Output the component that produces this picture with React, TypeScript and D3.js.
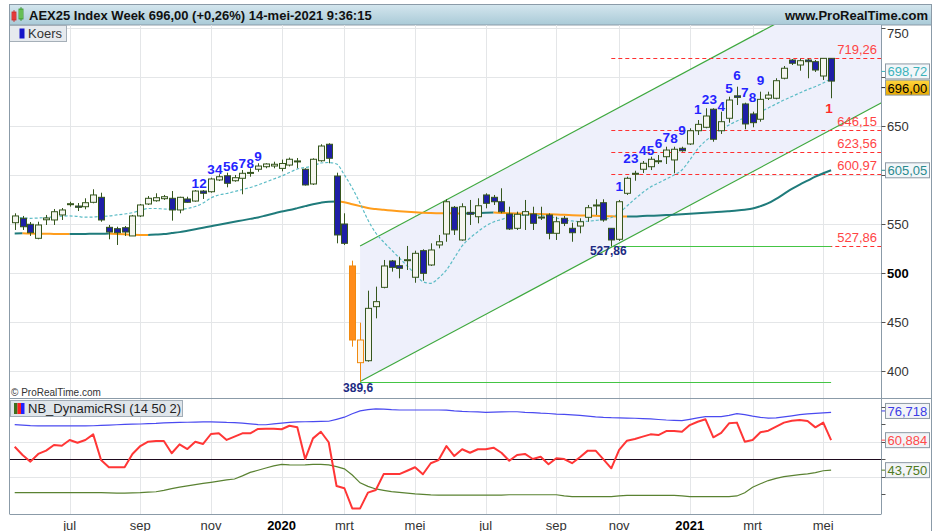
import React from 'react';
import * as d3 from 'd3';

// ---------- DATA ----------
const FIRST_WEEK = new Date(2019, 4, 13);

const opens = [
  551.6, 556.1, 550.0, 535.7, 554.6, 554.4, 559.5, 570.3, 568.6, 567.9,
  572.4, 577.5, 546.9, 545.5, 546.5, 538.1, 558.5, 570.7, 574.0, 576.1,
  576.5, 564.6, 575.8, 573.7, 583.9, 583.2, 595.2, 599.5, 594.4, 596.9,
  602.3, 606.1, 608.7, 609.4, 607.0, 610.4, 614.3, 606.1, 591.1, 614.8,
  631.6, 599.2, 550.3, 507.5, 408.9, 410.9, 466.0, 485.7, 512.6, 507.8,
  513.1, 496.0, 523.1, 508.5, 528.9, 540.1, 567.3, 534.0, 562.2, 557.7,
  579.9, 577.5, 573.0, 560.5, 545.9, 559.5, 560.5, 557.4, 559.5, 540.8,
  556.1, 545.9, 548.2, 557.1, 569.2, 572.0, 545.9, 534.7, 581.6, 601.7,
  606.1, 608.7, 614.5, 618.9, 615.6, 627.5, 631.9, 645.4, 648.9, 667.3,
  645.4, 658.1, 681.0, 672.7, 662.5, 657.1, 678.5, 678.5, 698.9, 717.5,
  712.4, 717.5, 715.8, 701.2, 719.2,
];
const highs = [
  561.2, 558.5, 552.3, 552.6, 559.5, 565.6, 566.6, 573.0, 571.7, 576.5,
  585.7, 582.2, 549.3, 547.5, 548.2, 559.5, 570.7, 578.8, 581.6, 579.9,
  583.9, 578.1, 578.1, 584.9, 584.9, 597.5, 601.0, 602.6, 600.3, 605.3,
  607.1, 612.2, 612.2, 613.8, 616.0, 618.0, 617.6, 607.1, 617.3, 631.6,
  632.6, 602.6, 561.2, 512.9, 449.7, 482.3, 486.4, 513.6, 513.6, 516.9,
  527.9, 523.1, 524.5, 530.6, 539.1, 575.5, 568.6, 571.4, 574.8, 576.5,
  581.6, 579.9, 586.7, 567.9, 562.9, 574.8, 567.9, 567.9, 561.2, 557.7,
  558.5, 551.6, 556.1, 569.7, 575.5, 575.5, 545.9, 574.8, 598.5, 604.6,
  614.5, 618.9, 620.6, 629.1, 629.1, 629.1, 647.9, 656.3, 668.3, 668.3,
  664.8, 680.1, 690.3, 674.0, 664.8, 685.2, 685.2, 698.9, 711.4, 718.5,
  719.0, 719.0, 717.5, 719.26, 719.26,
];
const lows = [
  544.2, 544.2, 538.1, 534.7, 549.3, 549.3, 554.4, 568.0, 563.5, 565.3,
  571.4, 552.6, 534.7, 528.9, 538.1, 538.1, 557.4, 569.7, 573.0, 574.8,
  553.7, 561.2, 572.0, 573.0, 575.8, 582.2, 594.1, 587.7, 593.4, 580.6,
  598.5, 603.6, 607.1, 607.1, 604.0, 609.0, 607.1, 589.5, 590.1, 613.8,
  612.2, 530.6, 528.9, 425.2, 389.6, 409.9, 454.1, 484.7, 501.7, 494.9,
  503.4, 490.4, 492.5, 507.5, 525.5, 532.2, 539.1, 533.3, 549.3, 551.0,
  566.3, 569.7, 561.2, 544.2, 544.2, 544.2, 544.2, 554.4, 534.7, 534.0,
  548.2, 532.2, 540.8, 552.6, 559.5, 552.6, 527.86, 533.0, 579.9, 594.4,
  602.3, 605.3, 611.5, 611.5, 602.0, 624.0, 630.9, 641.1, 647.9, 634.2,
  642.1, 653.6, 671.6, 646.9, 648.9, 654.6, 676.7, 677.4, 697.8, 712.4,
  706.6, 698.9, 705.3, 697.1, 678.5,
];
const closes = [
  558.5, 547.5, 541.4, 549.3, 556.4, 562.8, 564.6, 571.0, 567.3, 572.0,
  579.9, 554.4, 542.1, 541.4, 542.1, 558.5, 569.7, 576.5, 577.1, 578.1,
  564.6, 577.5, 572.4, 583.9, 581.6, 596.2, 598.5, 591.8, 597.5, 602.0,
  602.9, 609.4, 611.5, 611.2, 612.0, 616.3, 614.6, 590.1, 616.3, 629.8,
  617.3, 539.1, 530.6, 432.0, 432.0, 464.3, 471.1, 507.5, 506.1, 505.1,
  513.9, 520.4, 500.0, 523.8, 532.2, 573.0, 544.2, 567.9, 560.2, 568.9,
  571.4, 573.0, 562.8, 545.2, 560.2, 562.9, 551.0, 556.4, 540.8, 552.6,
  551.0, 541.4, 552.6, 566.9, 569.7, 554.4, 534.0, 573.0, 596.9, 602.0,
  612.2, 616.3, 614.8, 625.7, 626.5, 625.0, 645.4, 651.9, 660.4, 636.7,
  654.6, 676.7, 679.4, 652.3, 653.6, 677.4, 681.8, 696.4, 709.1, 714.2,
  716.8, 715.8, 707.3, 719.2, 696.0,
];

const smaShort = [
  557.1, 556.6, 556.1, 556.4, 556.9, 557.6, 558.3, 558.5, 558.0, 557.2,
  557.4, 558.0, 558.5, 559.5, 560.5, 561.8, 564.1, 566.1, 566.1, 565.6,
  565.4, 565.3, 566.1, 568.1, 571.7, 576.8, 579.9, 581.4, 583.4, 585.5,
  587.5, 590.1, 593.1, 596.2, 599.2, 602.8, 606.4, 607.9, 609.4, 612.5,
  613.0, 611.5, 600.3, 587.0, 571.4, 554.4, 541.1, 531.9, 523.8, 515.6,
  507.5, 499.3, 491.5, 489.8, 495.2, 503.4, 515.6, 527.9, 536.0, 542.4,
  548.3, 552.4, 554.9, 557.4, 558.7, 559.2, 559.5, 559.0, 558.0, 556.4,
  554.4, 553.4, 552.8, 553.1, 553.9, 554.9, 556.9, 561.5, 568.6, 575.8,
  582.4, 588.0, 592.1, 596.2, 600.3, 605.4, 615.5, 626.8, 634.9, 641.1,
  646.7, 651.3, 655.3, 658.4, 660.4, 664.8, 668.6, 672.7, 676.7, 680.3,
  683.9, 687.4, 690.5, 694.1, 698.72,
];
const smaLong = [
  540.6, 540.8, 540.6, 540.4, 540.3, 540.2, 540.1, 540.0, 540.1, 540.2,
  540.3, 540.4, 540.5, 540.2, 539.8, 539.4, 539.2, 539.1, 539.5, 540.0,
  541.0, 542.0, 543.5, 545.0, 546.5, 548.0, 549.5, 551.0, 552.5, 554.0,
  555.5, 557.0, 559.0, 561.0, 563.0, 564.6, 566.5, 568.5, 570.5, 572.0,
  573.0, 573.2, 572.5, 570.5, 568.5, 566.5, 565.5, 564.8, 564.0, 563.3,
  562.7, 562.2, 561.8, 561.5, 561.3, 561.2, 561.1, 561.0, 561.2, 561.5,
  561.8, 561.9, 561.6, 561.3, 561.0, 560.8, 560.6, 560.4, 560.2, 560.0,
  559.6, 559.3, 559.0, 558.8, 558.6, 558.4, 558.2, 558.0, 557.9, 558.0,
  558.4, 558.7, 559.0, 559.4, 559.8, 560.3, 560.8, 561.3, 561.8, 562.3,
  562.8, 563.4, 564.0, 564.8, 566.0, 568.5, 571.5, 576.0, 581.0, 586.0,
  590.5, 594.5, 598.5, 602.0, 605.05,
];

const rsiLine = [
  57.1, 52.4, 48.6, 53.0, 54.9, 58.1, 57.7, 61.0, 59.4, 61.0,
  64.2, 49.5, 45.4, 45.4, 45.4, 53.0, 57.5, 60.0, 60.4, 60.4,
  53.4, 58.5, 55.8, 60.0, 58.7, 64.4, 64.8, 61.0, 62.9, 64.8,
  64.8, 67.3, 67.4, 67.4, 67.1, 69.1, 68.2, 50.1, 61.9, 65.7,
  59.7, 34.7, 33.4, 21.9, 21.9, 30.9, 32.4, 41.5, 41.5, 41.5,
  43.4, 45.4, 41.4, 47.7, 49.5, 57.5, 51.8, 55.7, 53.7, 55.7,
  55.7, 56.6, 53.7, 49.1, 52.4, 53.0, 50.1, 51.4, 47.1, 50.5,
  50.1, 47.7, 51.1, 54.9, 54.9, 49.9, 44.8, 55.3, 60.6, 61.5,
  62.9, 64.2, 63.8, 66.1, 66.1, 65.7, 69.5, 71.4, 72.8, 62.5,
  65.1, 70.5, 70.9, 60.0, 61.0, 65.4, 66.3, 68.6, 70.9, 72.0,
  72.4, 71.8, 68.2, 70.9, 60.884,
];
const rsiUpper = [
  69.8, 69.5, 69.2, 69.0, 69.0, 69.0, 69.0, 69.0, 69.0, 69.0,
  69.1, 69.3, 69.5, 69.7, 69.9, 70.0, 70.1, 70.3, 70.5, 70.8,
  70.9, 71.0, 71.1, 71.2, 71.3, 71.3, 71.2, 71.0, 70.9, 70.6,
  70.2, 69.8, 69.7, 70.2, 70.6, 71.0, 71.3, 71.4, 71.5, 71.6,
  71.7, 72.8, 74.0, 76.0, 77.6, 78.3, 78.7, 78.6, 78.3, 78.1,
  78.1, 78.1, 78.1, 78.1, 78.1, 78.0, 77.6, 77.3, 77.1, 77.0,
  76.8, 76.9, 77.0, 77.1, 77.1, 76.8, 76.6, 76.3, 76.1, 75.8,
  75.6, 75.3, 75.0, 74.6, 74.2, 73.9, 73.7, 73.6, 73.5, 73.4,
  73.2, 73.0, 72.7, 72.4, 72.2, 72.0, 72.8, 73.6, 74.3, 74.3,
  74.3, 75.0, 76.0, 75.5, 74.6, 73.9, 73.5, 73.6, 74.2, 74.8,
  75.5, 75.9, 76.2, 76.5, 76.718,
];
const rsiLower = [
  30.9, 30.9, 30.9, 30.9, 30.9, 30.9, 30.9, 30.9, 30.9, 30.9,
  30.9, 30.9, 30.8, 30.6, 30.6, 30.8, 30.9, 31.2, 31.4, 32.2,
  33.2, 34.0, 34.8, 35.5, 36.2, 36.8, 37.5, 38.2, 38.7, 40.5,
  42.5, 43.7, 45.0, 46.2, 47.0, 46.8, 46.7, 46.8, 47.0, 47.1,
  46.8, 45.8, 44.5, 41.0, 36.5, 34.5, 33.0, 32.2, 31.5, 31.0,
  30.6, 30.2, 29.9, 29.6, 29.5, 29.5, 29.5, 29.5, 29.5, 29.5,
  29.5, 29.5, 29.5, 29.7, 29.7, 29.7, 29.7, 29.7, 29.7, 29.7,
  29.0, 28.6, 28.6, 28.6, 28.6, 28.6, 28.6, 29.0, 29.3, 29.3,
  29.3, 29.3, 29.3, 29.3, 29.3, 29.0, 28.6, 28.6, 28.6, 28.6,
  28.6, 28.6, 29.0, 30.8, 34.0, 36.0, 37.8, 39.0, 40.0, 40.6,
  41.2, 41.6, 42.3, 43.4, 43.75,
];

const priceTicks = [400, 450, 500, 550, 600, 650, 700, 750];
const rsiTicks = [30, 40, 50, 60, 70, 80];
const rsiGridTicks = [40, 60];
const dutchMonths = ['jan', 'feb', 'mrt', 'apr', 'mei', 'jun', 'jul', 'aug', 'sep', 'okt', 'nov', 'dec'];

const levelValues = [719.26, 646.15, 623.56, 600.97, 527.86];
const levelLabels = ['719,26', '646,15', '623,56', '600,97', '527,86'];
const levelStartIdx = 76;

const swingLowIdx = 44;
const swingLow = 389.6;
const pivotLowIdx = 76;
const pivotLow = 527.86;
const channelTopStart = 527.86;
const channelSlopePerWeek = 4.28;
const highlightIdx = [43, 44];

const countIdx = [23, 24, 25, 26, 27, 28, 29, 30, 31, 77, 78, 79, 80, 81, 82, 83, 84, 85, 87, 88, 89, 90, 91, 92, 93, 94, 95];
const countText = ['1', '2', '3', '4', '5', '6', '7', '8', '9', '1', '2', '3', '4', '5', '6', '7', '8', '9', '1', '2', '3', '4', '5', '6', '7', '8', '9'];
const countPrice = [591.8, 591.8, 605.4, 605.4, 608.7, 608.7, 611.8, 611.8, 619.6,
  588.3, 616.6, 616.6, 625.7, 625.7, 631.9, 638.7, 637.7, 645.4,
  667.3, 677.4, 677.4, 669.9, 688.7, 701.2, 684.2, 679.5, 696.1];
const sellCountIdx = 104;
const sellCountPrice = 667.6;

const lastClose = 696.0;
const lastShort = 698.72;
const lastLong = 605.05;

// ---------- CHART ----------
const FONT = "'Liberation Sans', Arial, Helvetica, sans-serif";

export default function App() {
  const n = opens.length;
  const W = 941, H = 531;
  const LEFT = 9.5, AX = 881.5, FR = 931.5;
  const TOP = 25, PB = 398, RB = 514;

  const weeks = opens.map((_, i) => d3.timeDay.offset(FIRST_WEEK, i * 7));
  const x = d3.scaleTime().domain([weeks[0], weeks[n - 1]]).range([14.7, 831.1]);
  const xi = (i: number) => x(weeks[i]);
  const y = d3.scaleLinear().domain([372.87, 753.2]).range([PB, TOP]);
  const yr = d3.scaleLinear().domain([18.69, 84.97]).range([RB, PB]);

  const monthTicks = weeks
    .map((d, i) => ({ d, i }))
    .filter(({ d, i }) => i > 0 && d.getMonth() !== weeks[i - 1].getMonth() && d.getMonth() % 2 === 0)
    .map(({ d, i }) => ({
      x: xi(i),
      label: d.getMonth() === 0 ? String(d.getFullYear()) : dutchMonths[d.getMonth()],
      bold: d.getMonth() === 0,
    }));

  const lineP = d3.line<number>().x((_, i) => xi(i)).y((v) => y(v));
  const lineR = d3.line<number>().x((_, i) => xi(i)).y((v) => yr(v));

  // long MA in coloured runs: teal rising, orange falling
  const runs: { color: string; pts: [number, number][] }[] = [];
  for (let i = 1; i < n; i++) {
    const color = smaLong[i] >= smaLong[i - 1] ? '#1f7b7b' : '#ff9d1c';
    const p0: [number, number] = [xi(i - 1), y(smaLong[i - 1])];
    const p1: [number, number] = [xi(i), y(smaLong[i])];
    const last = runs[runs.length - 1];
    if (last && last.color === color) last.pts.push(p1);
    else runs.push({ color, pts: [p0, p1] });
  }
  const curve = d3.line().curve(d3.curveMonotoneX);

  // regression channel
  const pxPerWeek = xi(1) - xi(0);
  const cx0 = xi(swingLowIdx);
  const wEnd = (AX - cx0) / pxPerWeek;
  const lowEnd = swingLow + channelSlopePerWeek * wEnd;
  const topEnd = channelTopStart + channelSlopePerWeek * wEnd;
  const chanPoly = [
    [cx0, y(channelTopStart)],
    [AX, y(topEnd)],
    [AX, y(lowEnd)],
    [cx0, y(swingLow)],
  ].map((p) => p.join(',')).join(' ');

  const gridColor = '#e4e6e8';
  const frameColor = '#8b9ba8';

  const priceBoxes = [y(lastShort) - 7, y(lastClose) + 6.5, y(lastLong)];
  const visiblePriceTicks = priceTicks.filter((t) => priceBoxes.every((b) => Math.abs(b - y(t)) > 13));

  const valueBox = (cy: number, text: string, color: string, fill: string, bold = false) => (
    <g>
      <line x1={AX} x2={AX + 4} y1={cy} y2={cy} stroke={color} strokeWidth={1} />
      <rect x={885.5} y={cy - 7.5} width={44} height={15} fill={fill} stroke="#8d9aa5" strokeWidth={1} />
      <text x={887.5} y={cy + 0.5} fontSize={13} fill={bold ? '#000' : color} dominantBaseline="central" fontFamily={FONT}>{text}</text>
    </g>
  );

  return (
    <svg width={W} height={H} style={{ position: 'absolute', left: 0, top: 0, background: '#fff' }} fontFamily={FONT}>
      <defs>
        <linearGradient id="hdr" x1="0" y1="0" x2="0" y2="1">
          <stop offset="0" stopColor="#d4e6ee" />
          <stop offset="1" stopColor="#a9cad7" />
        </linearGradient>
        <linearGradient id="gold" x1="0" y1="0" x2="0" y2="1">
          <stop offset="0" stopColor="#ffd640" />
          <stop offset="1" stopColor="#e8aa00" />
        </linearGradient>
        <clipPath id="pclip"><rect x={LEFT} y={TOP} width={AX - LEFT} height={PB - TOP} /></clipPath>
        <clipPath id="rclip"><rect x={LEFT} y={PB} width={AX - LEFT} height={RB - PB} /></clipPath>
      </defs>
      <rect x={0} y={0} width={W} height={H} fill="#fff" />

      {/* header */}
      <rect x={LEFT} y={4.5} width={FR - LEFT} height={20.5} fill="url(#hdr)" stroke={frameColor} />
      <rect x={12} y={12} width={4} height={8} fill="#f24a4a" stroke="#c22" strokeWidth={0.8} />
      <line x1={14} x2={14} y1={10} y2={22} stroke="#c22" strokeWidth={0.8} />
      <rect x={19} y={9} width={4} height={10} fill="#8ee27a" stroke="#2c8a1e" strokeWidth={0.8} />
      <line x1={21} x2={21} y1={7} y2={21} stroke="#2c8a1e" strokeWidth={0.8} />
      <text x={29} y={19.5} fontSize={13} fontWeight="bold" fill="#111">AEX25 Index Week 696,00 (+0,26%) 14-mei-2021 9:36:15</text>
      <text x={928} y={19.5} fontSize={13} fontWeight="bold" fill="#111" textAnchor="end">www.ProRealTime.com</text>

      {/* grids */}
      {priceTicks.map((t) => (
        <line key={'g' + t} x1={LEFT} x2={AX} y1={Math.round(y(t)) + 0.5} y2={Math.round(y(t)) + 0.5} stroke={gridColor} />
      ))}
      {monthTicks.map((m, k) => (
        <line key={'v' + k} x1={Math.round(m.x) + 0.5} x2={Math.round(m.x) + 0.5} y1={TOP} y2={RB} stroke={gridColor} />
      ))}
      {rsiGridTicks.map((t) => (
        <line key={'rg' + t} x1={LEFT} x2={AX} y1={Math.round(yr(t)) + 0.5} y2={Math.round(yr(t)) + 0.5} stroke={gridColor} />
      ))}

      {/* price panel */}
      <g clipPath="url(#pclip)">
        <polygon points={chanPoly} fill="#eef0fb" />
        <line x1={cx0} y1={y(channelTopStart)} x2={AX} y2={y(topEnd)} stroke="#3ea83e" strokeWidth={1.2} />
        <line x1={cx0} y1={y(swingLow)} x2={AX} y2={y(lowEnd)} stroke="#3ea83e" strokeWidth={1.2} />
        {levelValues.map((v, k) => (
          <line key={'lv' + k} x1={xi(levelStartIdx)} x2={AX} y1={Math.round(y(v)) + 0.5} y2={Math.round(y(v)) + 0.5}
            stroke="#ff3030" strokeDasharray="4,3" />
        ))}
        <line x1={xi(swingLowIdx)} x2={xi(n - 1)} y1={Math.round(y(swingLow)) + 0.5} y2={Math.round(y(swingLow)) + 0.5} stroke="#44c544" />
        <line x1={xi(pivotLowIdx)} x2={xi(n - 1)} y1={Math.round(y(pivotLow)) + 0.5} y2={Math.round(y(pivotLow)) + 0.5} stroke="#44c544" />

        {runs.map((r, k) => (
          <path key={'run' + k} d={curve(r.pts) || ''} fill="none" stroke={r.color} strokeWidth={2} />
        ))}
        <path d={lineP.curve(d3.curveMonotoneX)(smaShort) || ''} fill="none" stroke="#5cbcc6" strokeWidth={1.2} strokeDasharray="3,2" />

        {opens.map((o, i) => {
          const c = closes[i];
          const up = c >= o;
          const cx = Math.round(xi(i)) + 0.5;
          const top = y(Math.max(o, c));
          const bot = y(Math.min(o, c));
          const hl = highlightIdx.includes(i);
          const stroke = hl ? '#f08a10' : '#35561d';
          const fill = hl ? (up ? '#fff4e4' : '#ff8c1a') : up ? '#f4f5ef' : '#1e1ea6';
          return (
            <g key={'c' + i}>
              <line x1={cx} x2={cx} y1={y(highs[i])} y2={y(lows[i])} stroke={stroke} strokeWidth={1} />
              <rect x={cx - 3} y={top} width={6} height={Math.max(bot - top, 1)} fill={fill} stroke={stroke} strokeWidth={1} />
            </g>
          );
        })}

        {countIdx.map((ci, k) => (
          <text key={'cnt' + k} x={xi(ci)} y={y(countPrice[k])} fontSize={13.5} fontWeight="bold" fill="#2424ff"
            textAnchor="middle" dominantBaseline="central">{countText[k]}</text>
        ))}
        <text x={xi(sellCountIdx) - 2} y={y(sellCountPrice)} fontSize={13.5} fontWeight="bold" fill="#ff2a2a"
          textAnchor="middle" dominantBaseline="central">1</text>

        {levelValues.map((v, k) => (
          <text key={'lt' + k} x={877} y={y(v) - 8.5} fontSize={13} fill="#ff4444" textAnchor="end" dominantBaseline="central">{levelLabels[k]}</text>
        ))}
        <text x={xi(swingLowIdx) - 2} y={y(swingLow) + 6.5} fontSize={12} fontWeight="bold" fill="#1c2a82" textAnchor="middle" dominantBaseline="central">389,6</text>
        <text x={xi(pivotLowIdx) - 3} y={y(pivotLow) + 5.5} fontSize={12} fontWeight="bold" fill="#1c2a82" textAnchor="middle" dominantBaseline="central">527,86</text>
      </g>

      {/* Koers legend */}
      <rect x={LEFT} y={25.5} width={57} height={16} fill="#e6eaee" stroke="#a5afb8" />
      <rect x={19.5} y={28.5} width={5} height={10} fill="#1515c8" />
      <text x={28} y={38} fontSize={13} fill="#333">Koers</text>

      <text x={11} y={396} fontSize={10} fill="#333">© ProRealTime.com</text>

      {/* RSI panel */}
      <g clipPath="url(#rclip)">
        <line x1={LEFT} x2={AX} y1={Math.round(yr(50)) + 0.5} y2={Math.round(yr(50)) + 0.5} stroke="#1e0a1e" strokeWidth={1} />
        <path d={lineR(rsiUpper) || ''} fill="none" stroke="#4a4af0" strokeWidth={1.2} />
        <path d={lineR(rsiLower) || ''} fill="none" stroke="#5a8232" strokeWidth={1.2} />
        <path d={lineR(rsiLine) || ''} fill="none" stroke="#ff3636" strokeWidth={2} strokeLinejoin="round" />
      </g>
      <rect x={10.5} y={400.5} width={172} height={16} fill="#dfe5ea" stroke="#a2adb7" />
      <rect x={14} y={403} width={3.5} height={11} fill="#3f6f1c" />
      <rect x={17.5} y={403} width={3.5} height={11} fill="#ff2020" />
      <rect x={21} y={403} width={3.5} height={11} fill="#2222ff" />
      <text x={28} y={413} fontSize={13} fill="#222">NB_DynamicRSI (14 50 2)</text>

      {/* frames */}
      <line x1={LEFT} x2={LEFT} y1={4.5} y2={RB} stroke={frameColor} />
      <line x1={AX} x2={AX} y1={TOP} y2={RB} stroke={frameColor} />
      <line x1={FR} x2={FR} y1={4.5} y2={H} stroke={frameColor} />
      <line x1={LEFT} x2={FR} y1={PB + 0.5} y2={PB + 0.5} stroke={frameColor} />
      <line x1={LEFT} x2={AX} y1={RB + 0.5} y2={RB + 0.5} stroke={frameColor} />

      {/* price axis */}
      {priceTicks.map((t) => (
        <line key={'pt' + t} x1={AX} x2={AX + 4} y1={Math.round(y(t)) + 0.5} y2={Math.round(y(t)) + 0.5} stroke="#555" />
      ))}
      {visiblePriceTicks.map((t) => (
        <text key={'ptl' + t} x={887} y={Math.max(y(t), 33)} fontSize={13} fill={t === 500 ? '#000' : '#333'} fontWeight={t === 500 ? 'bold' : 'normal'}
          dominantBaseline="central">{t}</text>
      ))}
      {valueBox(priceBoxes[0], '698,72', '#3cb2bb', '#f2f6f9')}
      {valueBox(priceBoxes[1], '696,00', '#222', 'url(#gold)', true)}
      {valueBox(priceBoxes[2], '605,05', '#2a8a8e', '#f2f6f9')}

      {/* rsi axis */}
      {rsiTicks.map((t) => (
        <line key={'rt' + t} x1={AX} x2={AX + 4} y1={Math.round(yr(t)) + 0.5} y2={Math.round(yr(t)) + 0.5} stroke="#555" />
      ))}
      {valueBox(yr(rsiUpper[n - 1]) - 1.5, '76,718', '#3c3ce6', '#f2f4f7')}
      {valueBox(yr(rsiLine[n - 1]), '60,884', '#ff4a4a', '#f2f4f7')}
      {valueBox(yr(rsiLower[n - 1]), '43,750', '#4e7a22', '#f2f4f7')}

      {/* time axis */}
      {monthTicks.map((m, k) => (
        <text key={'ml' + k} x={m.x} y={525} fontSize={13} fontWeight={m.bold ? 'bold' : 'normal'}
          fill={m.bold ? '#000' : '#333'} textAnchor="middle" dominantBaseline="central">{m.label}</text>
      ))}
    </svg>
  );
}
